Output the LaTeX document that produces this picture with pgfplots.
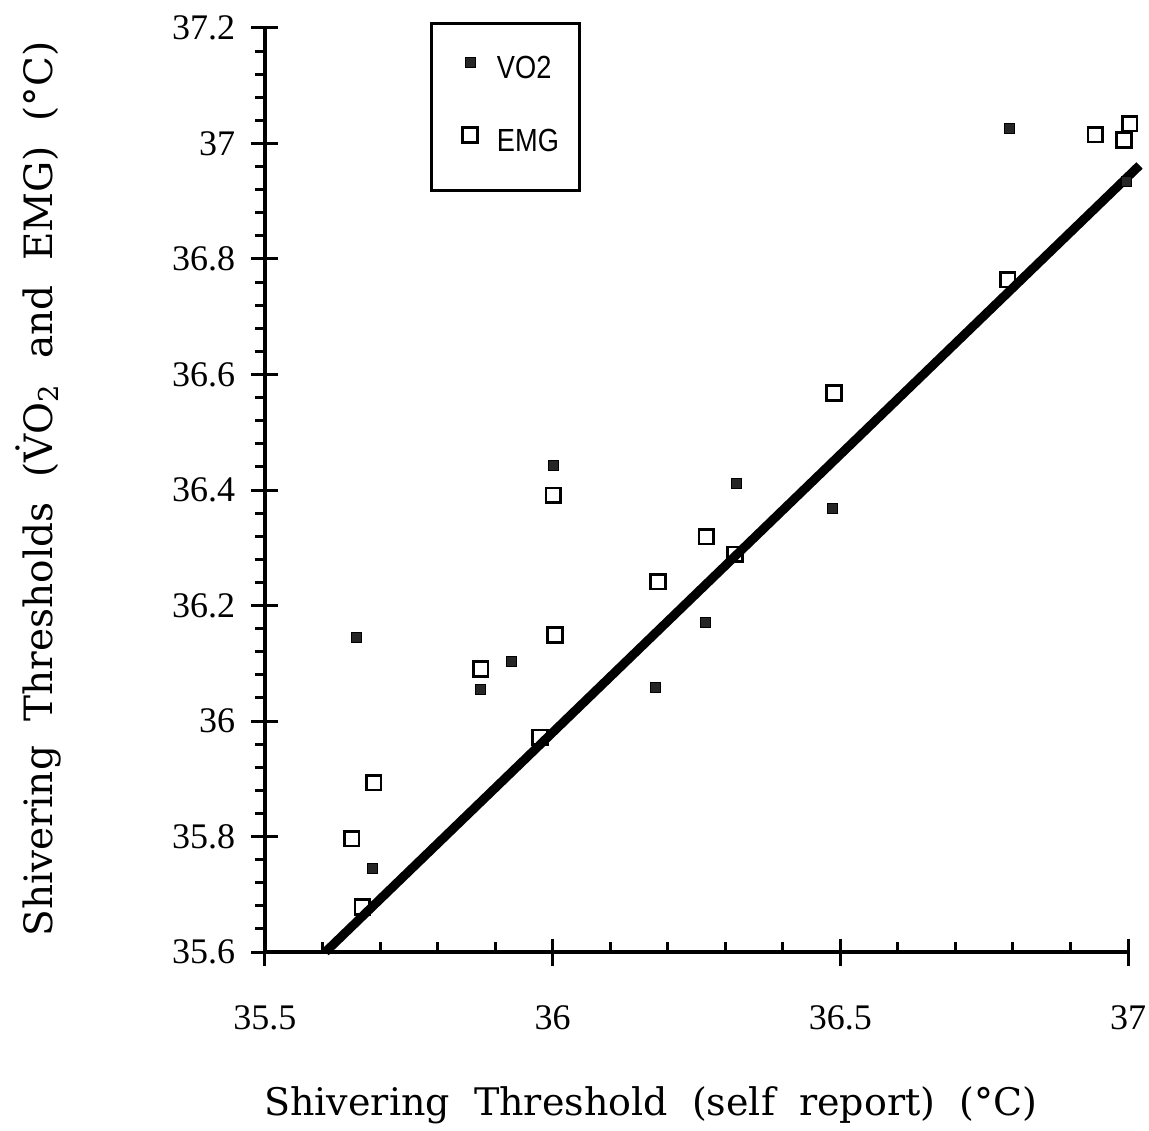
\documentclass[border=0pt]{standalone}
\usepackage{fontspec}
\setmainfont{DejaVu Serif}[WordSpace=2]
\newfontfamily\tickfont{Liberation Serif}
\newfontfamily\legfont{Liberation Sans}[FakeStretch=0.85]
\usepackage{pgfplots}
\pgfplotsset{compat=1.18}
\pgfplotsset{
  legimgA/.style={legend image code/.code={\draw[##1] plot coordinates {(0pt,8pt)};
    \path[draw=none,fill=none] (-19pt,-18.25pt) rectangle (13.5pt,27.5pt);}},
  legimgB/.style={legend image code/.code={\draw[##1] plot coordinates {(0pt,8pt)};
    \path[draw=none,fill=none] (-19pt,-19.5pt) rectangle (13.5pt,18.25pt);}},
}
\begin{document}
\begin{tikzpicture}
\begin{axis}[name=ax, scale only axis, width=431.5pt, height=462pt,
  xmin=35.5, xmax=37, ymin=35.6, ymax=37.2,
  axis lines=left, axis line style={-, line width=2pt},
  xtick={35.5,36,36.5,37},
  ytick={35.6,35.8,36,36.2,36.4,36.6,36.8,37,37.2},
  minor x tick num=4, minor y tick num=4,
  tick align=center, major tick length=13.5pt, minor tick length=5pt,
  every tick/.append style={black, line width=1.5pt},
  minor x tick style={yshift=2.5pt}, minor y tick style={xshift=-2.5pt},
  clip=false,
  /pgf/number format/assume math mode=true,
  ticklabel style={font=\tickfont\fontsize{18}{18}\selectfont, inner sep=0pt},
  xticklabel shift=20pt, yticklabel shift=8pt,
  xlabel={Shivering Threshold (self report) (°C)},
  ylabel={Shivering Thresholds (\.{V}O\textsubscript{2} and EMG) (°C)},
  xlabel style={font=\fontsize{19}{19}\selectfont, at={(rel axis cs:0.447,-0.1764)}, anchor=base},
  ylabel style={font=\fontsize{19.5}{19.5}\selectfont, at={(rel axis cs:-0.2468,0.501)}, anchor=base},
  legend style={at={(rel axis cs:0.1935,1.0054)}, anchor=north west,
    draw=black, line width=1.5pt, inner sep=0pt, outer sep=0pt,
    column sep=0pt, row sep=0pt, fill=white,
    nodes={inner sep=0pt, outer sep=0pt, anchor=base west, draw=none,
      font=\legfont\fontsize{16}{16}\selectfont}},
]
\addplot[only marks, mark=square*, mark size=2.5pt, line width=0.4pt,
  mark options={fill=black!85, draw=black}, legimgA]
coordinates {
(35.658,36.145) (35.686,35.745) (35.875,36.054) (35.929,36.104)
(36.001,36.443) (36.178,36.059) (36.265,36.171) (36.320,36.412)
(36.487,36.369) (36.793,37.027) (36.998,36.935)
};
\addlegendentry{\makebox[41.5pt][l]{VO2}}
\addplot[only marks, mark=square, mark size=3.6pt, line width=1.4pt,
  mark options={draw=black, fill=none}, legimgB]
coordinates {
(35.651,35.796) (35.689,35.893) (35.669,35.678) (35.875,36.090)
(35.978,35.972) (36.001,36.391) (36.004,36.149) (36.183,36.241)
(36.267,36.319) (36.317,36.289) (36.489,36.568) (36.791,36.764)
(36.943,37.015) (36.993,37.006) (37.003,37.034)
};
\addlegendentry{\makebox[41.5pt][l]{EMG}}
\addplot[black, line width=4.5pt, forget plot] coordinates {(35.605,35.6) (37.02,36.962)};
\end{axis}
\pgfresetboundingbox
\path ([shift={(-132.5pt,-89pt)}]ax.south west) rectangle ([shift={(10.5pt,14pt)}]ax.north east);
\end{tikzpicture}
\end{document}
